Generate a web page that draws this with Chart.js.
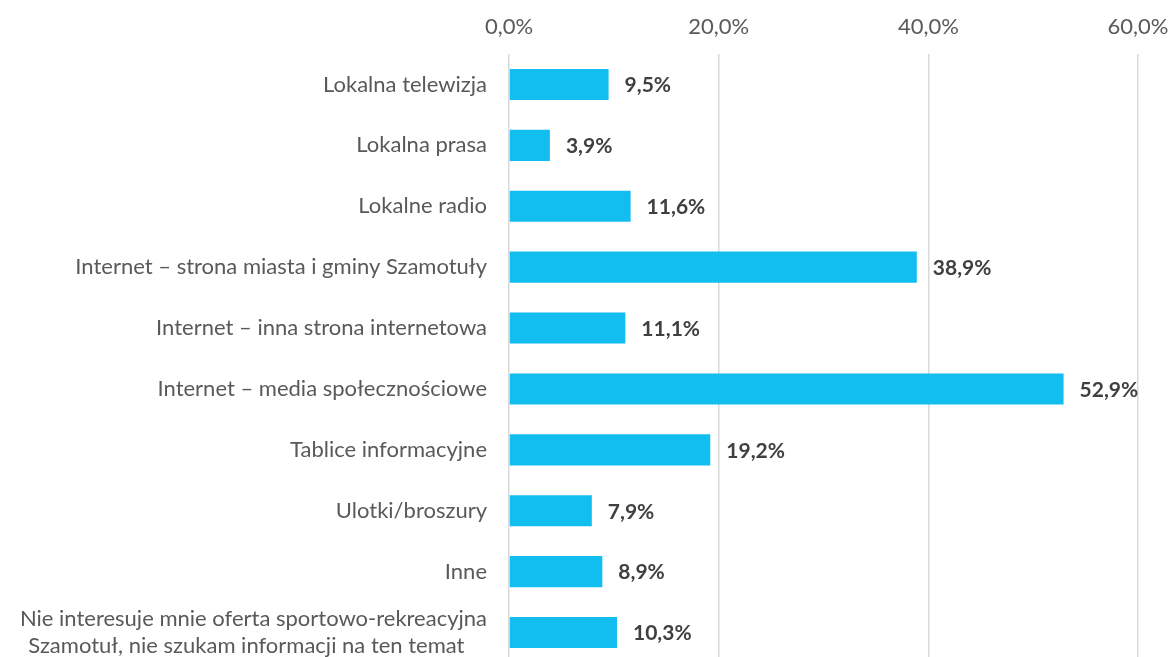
<!DOCTYPE html>
<html>
<head>
<meta charset="utf-8">
<script src="https://cdn.jsdelivr.net/npm/chart.js@4.4.1/dist/chart.umd.min.js"></script>
<style>
  html, body { margin: 0; padding: 0; background: #fff; overflow: hidden; }
  canvas { display: block; }
</style>
</head>
<body>
<canvas id="barChart" width="1169" height="663"></canvas>
<script>
// categories (last one wraps onto two lines)
const categories = [
    'Lokalna telewizja',
    'Lokalna prasa',
    'Lokalne radio',
    'Internet – strona miasta i gminy Szamotuły',
    'Internet – inna strona internetowa',
    'Internet – media społecznościowe',
    'Tablice informacyjne',
    'Ulotki/broszury',
    'Inne',
    ['Nie interesuje mnie oferta sportowo-rekreacyjna', 'Szamotuł, nie szukam informacji na ten temat\u00a0\u00a0\u00a0\u00a0'],
];
// percent values
const values = [9.5, 3.9, 11.6, 38.9, 11.1, 52.9, 19.2, 7.9, 8.9, 10.3];
const xTicks = [0, 20, 40, 60];

const fmt = v => v.toFixed(1).replace('.', ',') + '%';

// draws the value next to each bar
const valueLabels = {
    id: 'valueLabels',
    afterDatasetsDraw(chart) {
        const ctx = chart.ctx;
        const meta = chart.getDatasetMeta(0);
        ctx.save();
        ctx.font = 'bold 21px Lato';
        ctx.fillStyle = '#404040';
        ctx.textAlign = 'left';
        ctx.textBaseline = 'middle';
        meta.data.forEach((bar, i) => {
            ctx.fillText(fmt(values[i]), bar.x + 16, bar.y + 1);
        });
        ctx.restore();
    }
};

const config = {
    type: 'bar',
    data: {
        labels: categories,
        datasets: [{
            data: values,
            backgroundColor: '#12BDEF',
            borderWidth: 0,
            categoryPercentage: 0.51,
            barPercentage: 1.0,
        }]
    },
    options: {
        indexAxis: 'y',
        responsive: false,
        animation: false,
        layout: { padding: { left: 0, right: 31, top: 0, bottom: 0 } },
        plugins: {
            legend: { display: false },
            tooltip: { enabled: false },
        },
        scales: {
            x: {
                position: 'top',
                min: 0,
                max: 60,
                afterBuildTicks: axis => { axis.ticks = xTicks.map(v => ({ value: v })); },
                afterFit: axis => {
                    axis.height = 54;
                    axis.paddingLeft = 0;
                    axis.paddingRight = 0;
                },
                grid: { color: '#d9d9d9', lineWidth: 1.5, drawTicks: false },
                border: { display: false },
                ticks: {
                    color: '#595959',
                    font: { family: 'Lato', size: 22 },
                    padding: 14,
                    callback: v => fmt(v),
                },
            },
            y: {
                afterFit: axis => {
                    axis.width = 509;
                    axis.paddingTop = 0;
                    axis.paddingBottom = 0;
                },
                grid: { display: false, drawTicks: false },
                border: { display: false },
                ticks: {
                    color: '#595959',
                    font: { family: 'Lato', size: 22 },
                    padding: 22,
                    autoSkip: false,
                },
            }
        }
    },
    plugins: [valueLabels]
};

const myChart = new Chart(document.getElementById('barChart'), config);
</script>
</body>
</html>
